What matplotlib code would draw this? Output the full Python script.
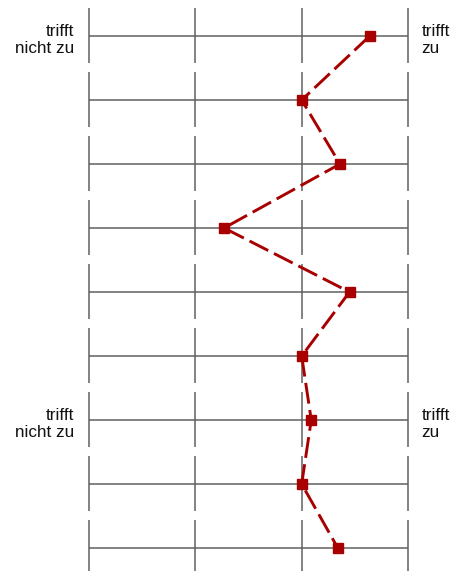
import matplotlib
matplotlib.use("Agg")
import matplotlib.pyplot as plt

plt.rcParams['font.family'] = ['Liberation Sans', 'DejaVu Sans']

# scale 1..4, one value per item (top to bottom)
values = [3.64, 3.0, 3.36, 2.27, 3.45, 3.0, 3.09, 3.0, 3.34]
scale_ticks = [1, 2, 3, 4]
left_label = "trifft\nnicht zu"
right_label = "trifft\nzu"
label_rows = [0, 6]

rows = list(range(len(values)))

fig = plt.figure(figsize=(4.53, 5.71), dpi=100)
ax = fig.add_axes([0, 0, 1, 1])
ax.set_xlim(0.163, 4.423)
ax.set_ylim(8.359, -0.5625)
ax.axis('off')

grid_col = '#606060'
for r in rows:
    ax.hlines(r, scale_ticks[0], scale_ticks[-1], color=grid_col, lw=1.1, zorder=1)
    ax.vlines(scale_ticks, r - 0.44, r + 0.42, color=grid_col, lw=1.1, zorder=1)

ax.plot(values, rows, color='#a80000', lw=2.1, dashes=(7.2, 2.2),
        marker='s', ms=6.5, zorder=3)

for r in label_rows:
    ax.text(0.86, r + 0.06, left_label, ha='right', va='center',
            multialignment='right', fontsize=12.3, color='#111111',
            linespacing=1.2)
    ax.text(4.125, r + 0.06, right_label, ha='left', va='center',
            multialignment='left', fontsize=12.3, color='#111111',
            linespacing=1.2)

fig.savefig('out.png', dpi=100)
